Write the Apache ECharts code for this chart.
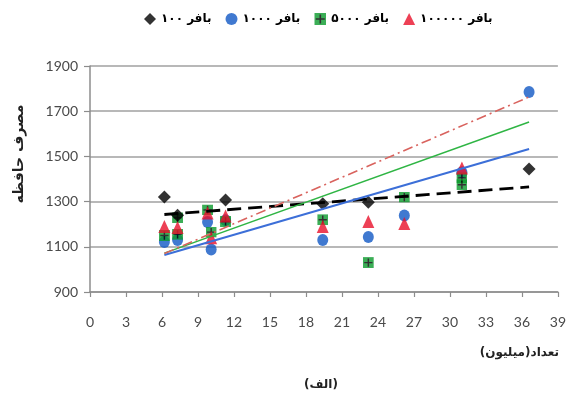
<!DOCTYPE html>
<html>
<head>
<meta charset="utf-8">
<script src="https://cdn.jsdelivr.net/npm/echarts@6/dist/echarts.min.js"></script>
<style>html,body{margin:0;padding:0;background:#fff}#c{width:569px;height:399px}</style>
</head>
<body>
<div id="c"></div>
<script>
// ---- data ----
const seriesNames = ['بافر ۱۰۰', 'بافر ۱۰۰۰', 'بافر ۵۰۰۰', 'بافر ۱۰۰۰۰۰'];
const xTicks = [0, 3, 6, 9, 12, 15, 18, 21, 24, 27, 30, 33, 36, 39];
const yTicks = [900, 1100, 1300, 1500, 1700, 1900];

const buf100X = [6.2, 7.3, 11.3, 19.4, 23.2, 36.6];
const buf100Y = [1320, 1240, 1307, 1290, 1297, 1444];

const buf1000X = [6.2, 7.3, 9.8, 10.1, 11.3, 19.4, 23.2, 26.2, 31.0, 36.6];
const buf1000Y = [1121, 1130, 1210, 1088, 1218, 1130, 1143, 1238, 1430, 1785];

const buf5000X = [6.2, 7.3, 7.3, 9.8, 10.1, 11.3, 19.4, 23.2, 26.2, 31.0, 31.0];
const buf5000Y = [1150, 1155, 1228, 1263, 1165, 1212, 1220, 1030, 1320, 1405, 1375];

const buf100000X = [6.2, 7.3, 9.8, 10.1, 11.3, 19.4, 23.2, 26.2, 31.0];
const buf100000Y = [1190, 1185, 1250, 1140, 1236, 1190, 1212, 1203, 1449];

// trend line end points (x, y)
const trend100 = [[6.2, 1243], [36.6, 1365]];
const trend1000 = [[6.2, 1064], [36.6, 1533]];
const trend5000 = [[6.2, 1072], [36.6, 1652]];
const trend100000 = [[6.2, 1070], [36.6, 1763]];

const yAxisTitle = 'مصرف حافظه';
const xAxisTitle = 'تعداد(میلیون)';
const panelLabel = '(الف)';

function zip(xs, ys) { return xs.map((x, i) => [x, ys[i]]); }

const greenSvg = "<svg xmlns='http://www.w3.org/2000/svg' width='24' height='24'>" +
  "<rect x='0' y='0' width='24' height='24' fill='#0b9a2c'/>" +
  "<path d='M12 3V21M3 12H21' stroke='#000' stroke-width='3.2'/></svg>";
const greenSym = 'image://data:image/svg+xml;charset=utf-8,' + encodeURIComponent(greenSvg);

const arFont = 'DejaVu Sans';
const numFont = 'Lato';

const chart = echarts.init(document.getElementById('c'), null, {renderer: 'canvas'});
chart.setOption({
  animation: false,
  backgroundColor: '#fff',
  grid: {left: 90, right: 8, top: 66, bottom: 107, containLabel: false},
  legend: {
    top: 8, left: 139, itemGap: 14, itemWidth: 12, itemHeight: 12,
    data: [
      {name: seriesNames[0], icon: 'diamond'},
      {name: seriesNames[1], icon: 'circle'},
      {name: seriesNames[2], icon: greenSym},
      {name: seriesNames[3], icon: 'triangle'}
    ],
    textStyle: {fontFamily: arFont, fontSize: 12, fontWeight: 'bold', color: '#000'}
  },
  xAxis: {
    type: 'value', min: 0, max: 39, interval: 3,
    axisLine: {show: true, lineStyle: {color: '#8c8c8c', width: 1.5}},
    axisTick: {show: true, length: 5, lineStyle: {color: '#8c8c8c', width: 1.2}},
    axisLabel: {margin: 23, fontFamily: numFont, fontSize: 14, color: '#4a4a4a',
      formatter: v => xTicks.includes(v) ? String(v) : ''},
    splitLine: {show: false}
  },
  yAxis: {
    type: 'value', min: 900, max: 1900, interval: 200,
    axisLine: {show: true, lineStyle: {color: '#8c8c8c', width: 1.5}},
    axisTick: {show: true, length: 6, lineStyle: {color: '#8c8c8c', width: 1.2}},
    axisLabel: {margin: 12, fontFamily: numFont, fontSize: 14, color: '#4a4a4a',
      formatter: v => yTicks.includes(v) ? String(v) : ''},
    splitLine: {show: true, lineStyle: {color: '#a0a0a0', width: 1.6}}
  },
  series: [
    {name: seriesNames[0], type: 'scatter', z: 6, symbol: 'diamond', symbolSize: 13,
      itemStyle: {color: '#000'}, data: zip(buf100X, buf100Y)},
    {name: seriesNames[1], type: 'scatter', z: 3, symbol: 'circle', symbolSize: [11, 12],
      itemStyle: {color: '#1058c4'}, data: zip(buf1000X, buf1000Y)},
    {name: seriesNames[2], type: 'scatter', z: 4, symbol: greenSym, symbolSize: 11,
      data: zip(buf5000X, buf5000Y)},
    {name: seriesNames[3], type: 'scatter', z: 5, symbol: 'triangle', symbolSize: [12, 13],
      itemStyle: {color: '#e8102a'}, data: zip(buf100000X, buf100000Y)},
    {type: 'line', z: 7, symbol: 'none', silent: true, data: trend100,
      lineStyle: {color: '#000', width: 2.8, type: [14, 7]}},
    {type: 'line', z: 7, symbol: 'none', silent: true, data: trend1000,
      lineStyle: {color: '#3c6fd8', width: 2}},
    {type: 'line', z: 7, symbol: 'none', silent: true, data: trend5000,
      lineStyle: {color: '#2fb544', width: 1.5}},
    {type: 'line', z: 7, symbol: 'none', silent: true, data: trend100000,
      lineStyle: {color: '#d9635e', width: 1.6, type: [10, 4, 2, 4]}}
  ],
  graphic: [
    {type: 'text', x: 19, y: 154, rotation: Math.PI / 2,
      style: {text: yAxisTitle, font: 'bold 14px "' + arFont + '"', fill: '#222',
        align: 'center', verticalAlign: 'middle'}},
    {type: 'text', right: 10, top: 347,
      style: {text: xAxisTitle, font: 'bold 12px "' + arFont + '"', fill: '#222'}},
    {type: 'text', left: 304, top: 379,
      style: {text: panelLabel, font: 'bold 12px "' + arFont + '"', fill: '#222'}}
  ]
});
</script>
</body>
</html>
